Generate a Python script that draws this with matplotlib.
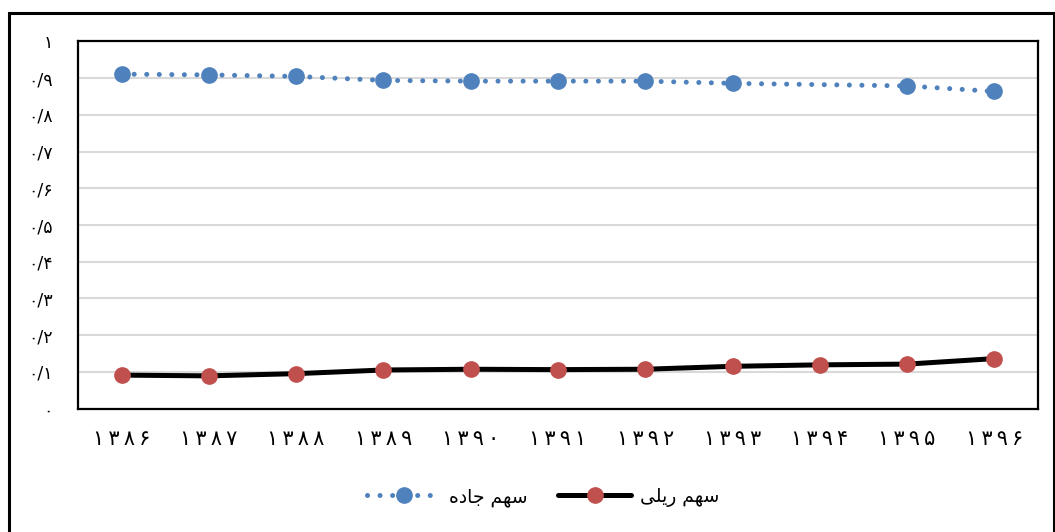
import numpy as np
import matplotlib.pyplot as plt
from matplotlib.patches import Rectangle
from matplotlib.lines import Line2D

plt.rcParams['font.family'] = ['DejaVu Sans', 'Noto Sans']

# years (solar hijri)
years = [1386, 1387, 1388, 1389, 1390, 1391, 1392, 1393, 1394, 1395, 1396]
# road share (1394 has no value in the source)
road = [0.911, 0.909, 0.905, 0.894, 0.892, 0.892, 0.892, 0.886, np.nan, 0.879, 0.864]
# rail share
rail = [0.091, 0.089, 0.095, 0.105, 0.107, 0.106, 0.107, 0.115, 0.119, 0.121, 0.136]
yticks = [0, 0.1, 0.2, 0.3, 0.4, 0.5, 0.6, 0.7, 0.8, 0.9, 1.0]

fa_digits = str.maketrans('0123456789', '۰۱۲۳۴۵۶۷۸۹')

def fa(s):
    return str(s).translate(fa_digits)

def spaced(s):
    # the source font sets digits wide apart
    return '\u2009'.join(fa(s))

def ytick_label(v):
    if v == 0:
        return fa(0)
    if v == 1:
        return fa(1)
    return fa('0/' + str(int(round(v * 10))))

# presentation forms, visual order (no shaping in matplotlib)
road_label = '\uFEE9\uFEA9\uFE8E\uFE9F \uFEE2\uFEEC\uFEB3'   # سهم جاده
rail_label = '\uFEF0\uFEE0\uFEF3\uFEAD \uFEE2\uFEEC\uFEB3'   # سهم ریلی

blue = '#4F81BD'
red = '#C0504D'

fig = plt.figure(figsize=(10.55, 5.32), dpi=100)
ax = fig.add_axes([0.0739, 0.2321, 0.9100, 0.6899])

x = np.arange(len(years))
road_arr = np.array(road)
ok = ~np.isnan(road_arr)

ax.plot(x[ok], road_arr[ok], color=blue, lw=3.6, linestyle=(0, (0.01, 2.5)),
        dash_capstyle='round', marker='o', ms=11, mfc=blue, mec=blue, zorder=3)
ax.plot(x, rail, color='black', lw=3.6, solid_capstyle='round',
        marker='o', ms=11, mfc=red, mec=red, zorder=3)

ax.set_xlim(-0.5, len(years) - 0.5)
ax.set_ylim(0, 1)
ax.set_yticks(yticks)
ax.set_yticklabels([ytick_label(v) for v in yticks], fontsize=12.5)
ax.set_xticks(x)
ax.set_xticklabels([spaced(y) for y in years], fontsize=15)
ax.tick_params(axis='both', length=0)
ax.tick_params(axis='y', pad=18)
ax.tick_params(axis='x', pad=15)
ax.grid(axis='y', color='#D9D9D9', lw=1.5)
ax.set_axisbelow(True)
for s in ax.spines.values():
    s.set_linewidth(1.6)
    s.set_color('black')

handles = [
    Line2D([], [], color=blue, lw=3.6, linestyle=(0, (0.01, 2.5)), dash_capstyle='round',
           marker='o', ms=11, mfc=blue, mec=blue),
    Line2D([], [], color='black', lw=3.6, solid_capstyle='round',
           marker='o', ms=11, mfc=red, mec=red),
]
fig.legend(handles, [road_label, rail_label], loc='center', bbox_to_anchor=(0.515, 0.066),
           ncol=2, frameon=False, fontsize=13.5, handlelength=3.9, columnspacing=1.6,
           handletextpad=0.5)

# outer chart border
fig.patches.append(Rectangle((9 / 1055, -0.2), 1045 / 1055, 0.2 + (532 - 13) / 532,
                             transform=fig.transFigure, fill=False, ec='black', lw=2.2))

fig.savefig('out.png', dpi=100)
